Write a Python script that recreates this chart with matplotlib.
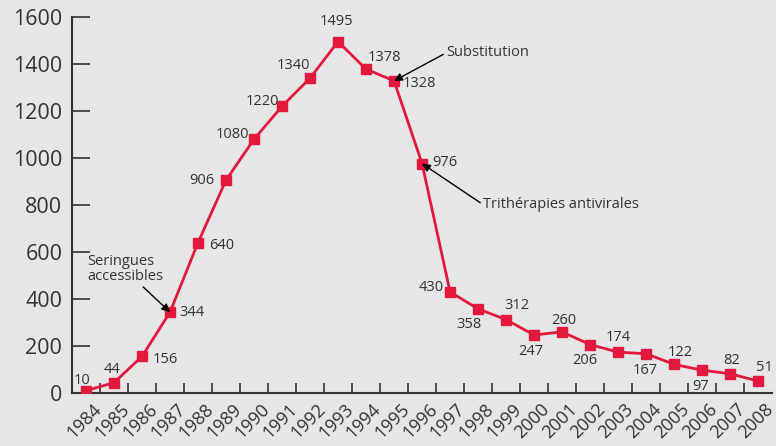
import numpy as np
import matplotlib
matplotlib.use("Agg")
import matplotlib.pyplot as plt
import matplotlib.transforms as mtransforms

plt.rcParams['font.family'] = ['Open Sans', 'DejaVu Sans']

years = [str(y) for y in range(1984, 2009)]
deaths = [10, 44, 156, 344, 640, 906, 1080, 1220, 1340, 1495, 1378, 1328, 976,
          430, 358, 312, 247, 260, 206, 174, 167, 122, 97, 82, 51]
# label offsets in pixels (dx, dy) relative to each point
label_off = [(-4, 10), (-2, 13), (23, -3), (22, 0), (24, -3), (-24, 0), (-22, 5),
             (-20, 5), (-17, 13), (-2, 20), (18, 12), (25, -3), (23, 1), (-19, 4),
             (-9, -16), (11, 14), (-3, -17), (2, 11), (-5, -16), (0, 15), (-1, -17),
             (6, 12), (-1, -16), (2, 13), (6, 14)]

red = '#e3183d'
txt = '#333333'
bg = '#e6e6e6'

fig = plt.figure(figsize=(7.76, 4.46), dpi=100, facecolor=bg)
ax = fig.add_axes([0.0928, 0.1188, 0.9022, 0.8432], facecolor=bg)

x = np.arange(len(years))
ax.plot(x, deaths, color=red, lw=2, marker='s', ms=7, mec=red, mfc=red, zorder=3)

for xi, v, (dx, dy) in zip(x, deaths, label_off):
    ax.annotate(str(v), (xi, v), xytext=(dx, dy), textcoords='offset pixels',
                ha='center', va='center', fontsize=10.5, color=txt)

arrow = dict(arrowstyle='-|>', color='black', lw=1, mutation_scale=12, shrinkA=0, shrinkB=0)
ax.annotate('Seringues\naccessibles', xy=(3, 344), xytext=(-83, 43),
            textcoords='offset pixels', ha='left', va='center', fontsize=10.5,
            color=txt, linespacing=1.0,
            arrowprops=dict(arrow, relpos=(0.7, 0.0)))
ax.annotate('Substitution', xy=(11, 1328), xytext=(52, 28),
            textcoords='offset pixels', ha='left', va='center', fontsize=10.5,
            color=txt, arrowprops=dict(arrow, relpos=(0.0, 0.5)))
ax.annotate('Trithérapies antivirales', xy=(12, 976), xytext=(61, -41),
            textcoords='offset pixels', ha='left', va='center', fontsize=10.5,
            color=txt, arrowprops=dict(arrow, relpos=(0.0, 0.5)))

ax.set_xlim(-0.5, len(years) - 0.5)
ax.set_ylim(0, 1600)
ax.set_yticks(np.arange(0, 1601, 200))
ax.tick_params(axis='y', direction='in', length=13, width=1.2, color=txt,
               labelsize=15.5, labelcolor=txt, pad=7)

ax.set_xticks(x)
ax.set_xticklabels(years, rotation=45, ha='right', rotation_mode='anchor',
                   fontsize=13, color=txt)
ax.tick_params(axis='x', which='major', length=0, pad=3)
ax.set_xticks(x[:-1] + 0.5, minor=True)
ax.tick_params(axis='x', which='minor', direction='in', length=7, width=1.2, color=txt)
shift = mtransforms.ScaledTranslation(0.06, -0.03, fig.dpi_scale_trans)
for lab in ax.get_xticklabels():
    lab.set_transform(lab.get_transform() + shift)

for s in ['top', 'right']:
    ax.spines[s].set_visible(False)
for s in ['left', 'bottom']:
    ax.spines[s].set_color(txt)
    ax.spines[s].set_linewidth(1.5)

fig.savefig('out.png', dpi=100, facecolor=bg)
